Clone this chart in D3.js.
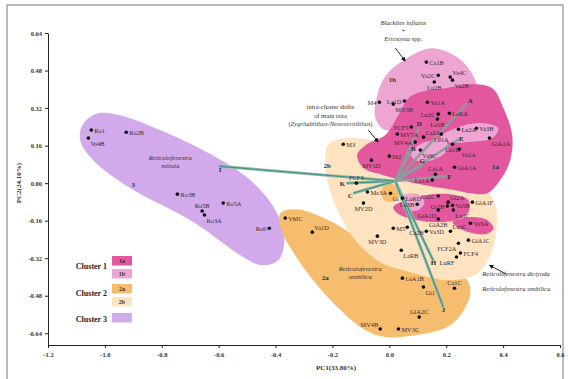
<!DOCTYPE html>
<html><head><meta charset="utf-8">
<script src="https://cdn.jsdelivr.net/npm/d3@7"></script>
<style>body{margin:0;background:#fff}svg{display:block}</style>
</head><body>
<svg id="c" width="568" height="379"></svg>
<script>
// ---------- DATA ----------
const xTicks = [-1.2,-1.0,-0.8,-0.6,-0.4,-0.2,0.0,0.2,0.4,0.6];
const xTickLabels = ["-1.2","-1.0","-0.8","-0.6","-0.4","-0.2","0.0","0.2","0.4","0.6"];
const yTicks = [0.64,0.48,0.32,0.16,0.0,-0.16,-0.32,-0.48,-0.64];
const yTickLabels = ["0.64","0.48","0.32","0.16","0.00","-0.16","-0.32","-0.48","-0.64"];
const xTitle = "PC1(33.80%)";
const yTitle = "PC2(24.10%)";

const clusterKeys = ["1a","1b","2a","2b","3"];
const legendGroups = ["Cluster 1","Cluster 2","Cluster 3"];

const pointNames = ["Ro1","Va4B","Ro2B","Ro3B","Ro5B","Ro3A","Ro5A","Ro6",
 "VhIC","Va1D","GiA1B","Gi1","Ca1C","GiA2C","MV4B","MV3C",
 "M3","FCF3","Ma3A","Gi","MV2D","M5","Ca2B","Va3D","Lu3C","GiA1C","FCF2A","FCF4","LuRF","MV3D","LaRB","GiA1F","GiA2B",
 "Ca1B","Va2C","Va4C","Va2B","Lu2B","La1D","M4","MV3B",
 "Va1A","Lu2C","LeRA","Le1B","Lu2A","Va3B","GiA2A","Ca2A","Le1A","Lu1B","Va2A","Va9C","GiA1A","Ca1A","La1A","Ca2C","Gi2A","Gi2B","Va5B","GiA1D","Lu1C","VaSA","FCF5","MV7A","MV4A","M2","MV1D","LaRD","Lu3B"];
const pointPC1 = [-1.048,-1.058,-0.925,-0.745,-0.658,-0.650,-0.584,-0.422,
 -0.366,-0.271,0.046,0.120,0.229,0.105,-0.032,0.032,
 -0.162,-0.116,-0.077,0.004,-0.091,0.014,0.063,0.130,0.215,0.278,0.243,0.250,0.236,-0.042,0.042,0.292,0.172,
 0.130,0.172,0.214,0.222,0.158,0.053,-0.035,0.014,
 0.134,0.172,0.211,0.169,0.243,0.306,0.352,0.120,0.183,0.222,0.246,0.109,0.229,0.162,0.151,0.172,0.207,0.204,0.222,0.172,0.225,0.285,0.077,0.028,0.091,0.000,-0.063,0.046,0.098];
const pointPC2 = [0.226,0.192,0.217,-0.047,-0.119,-0.136,-0.085,-0.192,
 -0.149,-0.209,-0.405,-0.443,-0.448,-0.571,-0.622,-0.622,
 0.166,0.000,-0.038,-0.043,-0.085,-0.192,-0.188,-0.205,-0.205,-0.243,-0.256,-0.298,-0.315,-0.226,-0.286,-0.081,-0.153,
 0.516,0.460,0.452,0.439,0.431,0.350,0.345,0.337,
 0.345,0.294,0.298,0.273,0.230,0.234,0.192,0.196,0.209,0.166,0.145,0.141,0.068,0.038,0.013,-0.055,-0.081,-0.098,-0.094,-0.115,-0.115,-0.171,0.239,0.209,0.175,0.115,0.098,-0.064,-0.090];

// cluster outlines (PC1, PC2)
const hull3 = [[-1.079,0.247],[-1.034,0.294],[-0.963,0.294],[-0.805,0.226],[-0.605,0.107],[-0.489,0.013],[-0.401,-0.115],[-0.369,-0.243],[-0.390,-0.328],[-0.447,-0.350],[-0.524,-0.307],[-0.689,-0.166],[-0.911,-0.021],[-1.041,0.098],[-1.087,0.183]];
const hull2a = [[-0.383,-0.128],[-0.331,-0.111],[-0.243,-0.141],[-0.137,-0.213],[-0.032,-0.328],[0.074,-0.379],[0.179,-0.405],[0.267,-0.405],[0.285,-0.465],[0.250,-0.563],[0.197,-0.618],[0.091,-0.648],[-0.014,-0.656],[-0.084,-0.627],[-0.172,-0.541],[-0.260,-0.426],[-0.331,-0.307],[-0.380,-0.200]];
const hull2aSmall = [[-0.025,-0.021],[0.011,-0.004],[0.035,-0.038],[0.018,-0.077],[-0.018,-0.072]];
const hull2b = [[-0.190,0.183],[-0.120,0.192],[0.039,0.149],[0.214,0.021],[0.338,-0.030],[0.373,-0.094],[0.376,-0.200],[0.355,-0.307],[0.302,-0.392],[0.197,-0.413],[0.074,-0.379],[-0.032,-0.337],[-0.120,-0.243],[-0.179,-0.124],[-0.214,-0.009],[-0.225,0.098],[-0.218,0.158]];
const hull1b = [[-0.046,0.354],[-0.014,0.456],[0.067,0.537],[0.151,0.575],[0.243,0.533],[0.299,0.448],[0.306,0.375],[0.179,0.320],[0.056,0.247],[-0.014,0.226],[-0.049,0.277]];
const hull1a = [[0.109,0.388],[0.197,0.405],[0.285,0.422],[0.362,0.405],[0.401,0.320],[0.432,0.205],[0.425,0.098],[0.390,0.013],[0.345,-0.043],[0.285,-0.043],[0.232,-0.030],[0.144,-0.013],[0.056,0.009],[-0.021,0.034],[-0.091,0.064],[-0.113,0.119],[-0.084,0.162],[-0.014,0.205],[0.032,0.290],[0.067,0.362]];
const hull1aLow = [[0.014,-0.102],[0.074,-0.068],[0.151,-0.047],[0.232,-0.051],[0.278,-0.072],[0.278,-0.124],[0.232,-0.158],[0.151,-0.166],[0.081,-0.153],[0.032,-0.132]];
const hull1aVaSA = [[0.222,-0.166],[0.285,-0.145],[0.345,-0.158],[0.366,-0.192],[0.338,-0.217],[0.257,-0.200]];
const patch1bA = [[0.179,0.196],[0.232,0.234],[0.320,0.256],[0.383,0.234],[0.362,0.192],[0.278,0.175],[0.207,0.175]];
const patch1bB = [[0.074,0.132],[0.127,0.175],[0.197,0.183],[0.204,0.141],[0.151,0.098],[0.091,0.098]];
const patch1bC = [[0.046,-0.055],[0.102,-0.047],[0.123,-0.081],[0.102,-0.115],[0.053,-0.111]];

// intra-cluster shifts of main taxa
const shiftOrigin = [0.021,0.009];
const shiftLetters = ["A","B","D","E","F","G","H","J","K","C","I"];
const shiftPC1 = [0.274,0.084,0.105,0.246,0.204,0.116,0.155,0.190,-0.151,-0.127,-0.598];
const shiftPC2 = [0.341,0.153,0.239,0.188,0.030,0.077,-0.332,-0.529,0.000,-0.043,0.072];
const shiftKind = ["g","g","g","g","g","g","t","t","t","t","t"];

// text annotations
const clusterTags = ["1b","1a","2b","2a","3"];
const clusterTagPC1 = [0.011,0.373,-0.218,-0.225,-0.900];
const clusterTagPC2 = [0.443,0.072,0.077,-0.401,-0.004];

// ---------- STYLE / LAYOUT ----------
const svg = d3.select("#c");
const FONT = "'Liberation Serif','Times New Roman',serif";
const colors = {"1a":"#e2579d","1b":"#eca6d1","2a":"#f7bd6e","2b":"#fde3c0","3":"#d2aaeb"};
const x = d3.scaleLinear().domain([-1.2,0.6]).range([48,560]);
const y = d3.scaleLinear().domain([-0.69,0.64]).range([345,33]);

svg.append("rect").attr("x",7).attr("y",5).attr("width",556).attr("height",380)
  .attr("fill","none").attr("stroke","#777").attr("stroke-width",1);

const blob = d3.line().x(d=>x(d[0])).y(d=>y(d[1])).curve(d3.curveCatmullRomClosed.alpha(0.5));
const regions = [[hull3,"3"],[hull2a,"2a"],[hull2b,"2b"],[hull2aSmall,"2a"],[hull1b,"1b"],[hull1a,"1a"],[hull1aLow,"1a"],[hull1aVaSA,"1a"],[patch1bA,"1b"],[patch1bB,"1b"],[patch1bC,"1b"]];
svg.append("g").selectAll("path").data(regions).join("path")
  .attr("d",d=>blob(d[0])).attr("fill",d=>colors[d[1]]);

// axes
const xa = svg.append("g").attr("transform",`translate(0,${y(-0.69)})`)
  .call(d3.axisBottom(x).tickValues(xTicks).tickFormat((d,i)=>xTickLabels[i]).tickSize(3).tickSizeOuter(0));
const ya = svg.append("g").attr("transform",`translate(${x(-1.2)},0)`)
  .call(d3.axisLeft(y).tickValues(yTicks).tickFormat((d,i)=>yTickLabels[i]).tickSize(3).tickSizeOuter(0));
[xa,ya].forEach(a=>{
  a.selectAll("path,line").attr("stroke","#222").attr("stroke-width",1);
  a.selectAll("text").attr("font-family",FONT).attr("font-size",6.5).attr("font-weight","bold").attr("fill","#333");
});
xa.selectAll("text").attr("dy","0.9em");
svg.append("text").attr("x",336).attr("y",370).attr("text-anchor","middle")
  .attr("font-family",FONT).attr("font-size",7).attr("font-weight","bold").attr("fill","#333").text(xTitle);
svg.append("text").attr("transform",`translate(21,${y(0)}) rotate(-90)`).attr("text-anchor","middle")
  .attr("font-family",FONT).attr("font-size",7).attr("font-weight","bold").attr("fill","#333").text(yTitle);

// shift lines
const sg = svg.append("g");
shiftLetters.forEach((L,i)=>{
  const x0=x(shiftOrigin[0]), y0=y(shiftOrigin[1]), x1=x(shiftPC1[i]), y1=y(shiftPC2[i]);
  if(shiftKind[i]==="t"){
    sg.append("line").attr("x1",x0).attr("y1",y0).attr("x2",x1).attr("y2",y1).attr("stroke","#9fb8b2").attr("stroke-width",3);
    sg.append("line").attr("x1",x0).attr("y1",y0).attr("x2",x1).attr("y2",y1).attr("stroke","#3e9c86").attr("stroke-width",1.3);
  } else {
    sg.append("line").attr("x1",x0).attr("y1",y0).attr("x2",x1).attr("y2",y1).attr("stroke","#8f9c9c").attr("stroke-width",2.6).attr("opacity",0.95);
  }
});
const letterOff = {A:[3,0],B:[0,4],D:[0,-1],E:[2,2],F:[2,3],G:[0,-2],H:[0,4],J:[0,5],K:[-4,3],C:[-3,5],I:[1,6]};
svg.append("g").selectAll("text").data(shiftLetters).join("text")
  .attr("x",(d,i)=>x(shiftPC1[i])+letterOff[d][0]).attr("y",(d,i)=>y(shiftPC2[i])+letterOff[d][1])
  .attr("text-anchor","middle").attr("font-family",FONT).attr("font-size",7).attr("font-weight","bold").attr("fill","#2a2a2a").text(d=>d);

// points
const place = {r:[3,2.5,"start"],l:[-3,2.5,"end"],t:[0,-3,"middle"],b:[0,8,"middle"],br:[2,7.5,"start"],bl:[-2,7.5,"end"],tr:[2,-2.5,"start"],tl:[-2,-2.5,"end"]};
const labelPos = {Va2C:"l",Va4C:"tr",Va2B:"br",Lu2B:"b",La1D:"l",M4:"l",MV3B:"br",Lu2C:"l",Le1B:"b",Ca2A:"tr",Le1A:"b",Lu1B:"b",Va2A:"br",Va9C:"br",Ca1A:"t",La1A:"l",Ca2C:"l",Gi2A:"tr",Gi2B:"l",GiA1D:"bl",Lu1C:"br",GiA2B:"b",FCF5:"l",MV4A:"l",MV1D:"b",FCF3:"t",Gi:"br",MV2D:"b",Lu3B:"l",Ca2B:"br",Va3D:"r",Lu3C:"tr",FCF2A:"bl",LuRF:"bl",MV3D:"b",LaRB:"br",Va1D:"tr",Gi1:"br",Ca1C:"t",GiA2C:"t",MV4B:"tl",Va4B:"br",Ro5B:"t",Ro3A:"br",Ro6:"l",GiA2A:"br"};
const pg = svg.append("g");
pointNames.forEach((n,i)=>{
  const px=x(pointPC1[i]), py=y(pointPC2[i]);
  pg.append("circle").attr("cx",px).attr("cy",py).attr("r",1.8).attr("fill","#111");
  const p = place[labelPos[n]||"r"];
  pg.append("text").attr("x",px+p[0]).attr("y",py+p[1]).attr("text-anchor",p[2])
    .attr("font-family",FONT).attr("font-size",6.4).attr("fill","#3a2b36").text(n);
});

// cluster tags
svg.append("g").selectAll("text").data(clusterTags).join("text")
  .attr("x",(d,i)=>x(clusterTagPC1[i])).attr("y",(d,i)=>y(clusterTagPC2[i])+2.5)
  .attr("text-anchor","middle").attr("font-family",FONT).attr("font-size",7).attr("font-weight","bold").attr("fill","#333").text(d=>d);

// italic annotations
function multi(lines, px, py, anchor, lh){
  const t = svg.append("text").attr("font-family",FONT).attr("font-size",6.6).attr("fill","#333").attr("text-anchor",anchor);
  lines.forEach((ln,k)=>{
    const ts = t.append("tspan").attr("x",x(px)).attr("y",y(py)+k*lh);
    ln.forEach(seg=>ts.append("tspan").attr("font-style",seg[1]?"italic":"normal").text(seg[0]));
  });
}
multi([[["Reticulofenestra",1]],[["minuta",1]]], -0.770, 0.100, "middle", 8);
multi([[["Reticulofenestra",1]],[["umbilica",1]]], -0.102, -0.375, "middle", 8);
multi([[["Blackites inflatus",1]],[["+",0]],[["Ericsonia",1],[" spp.",0]]], 0.049, 0.673, "middle", 8);
multi([[["intra-cluster shifts",0]],[["of main taxa",0]],[["(",0],["Zygrhablithus",1],["-",0],["Neococcolithus",1],[")",0]]], -0.207, 0.315, "middle", 8.5);
multi([[["Reticulofenestra dictyoda",1]],[["",0]],[["Reticulofenestra umbilica",1]]], 0.327, -0.395, "start", 7.5);

// arrows
svg.append("defs").append("marker").attr("id","ah").attr("viewBox","0 0 10 10").attr("refX",9).attr("refY",5)
  .attr("markerWidth",5).attr("markerHeight",5).attr("orient","auto")
  .append("path").attr("d","M0,0L10,5L0,10z").attr("fill","#111");
const arrowFrom = [[0.021,0.576],[-0.074,0.226],[0.411,-0.388]];
const arrowTo = [[0.056,0.520],[-0.039,0.175],[0.352,-0.350]];
arrowFrom.forEach((f,i)=>{
  svg.append("line").attr("x1",x(f[0])).attr("y1",y(f[1])).attr("x2",x(arrowTo[i][0])).attr("y2",y(arrowTo[i][1]))
    .attr("stroke","#111").attr("stroke-width",0.9).attr("marker-end","url(#ah)");
});

// legend
const lg = svg.append("g");
const swY = [256,269,284,297,313];
clusterKeys.forEach((k,i)=>{
  lg.append("rect").attr("x",112).attr("y",swY[i]).attr("width",20).attr("height",9.5).attr("fill",colors[k]);
  if(k!=="3") lg.append("text").attr("x",122).attr("y",swY[i]+7).attr("text-anchor","middle")
    .attr("font-family",FONT).attr("font-size",6).attr("font-weight","bold").attr("fill","#333").text(k);
});
const lgY = [269,296,322];
legendGroups.forEach((g,i)=>{
  lg.append("text").attr("x",107).attr("y",lgY[i]).attr("text-anchor","end")
    .attr("font-family",FONT).attr("font-size",8).attr("font-weight","bold").attr("fill","#222").text(g);
});
</script>
</body></html>
